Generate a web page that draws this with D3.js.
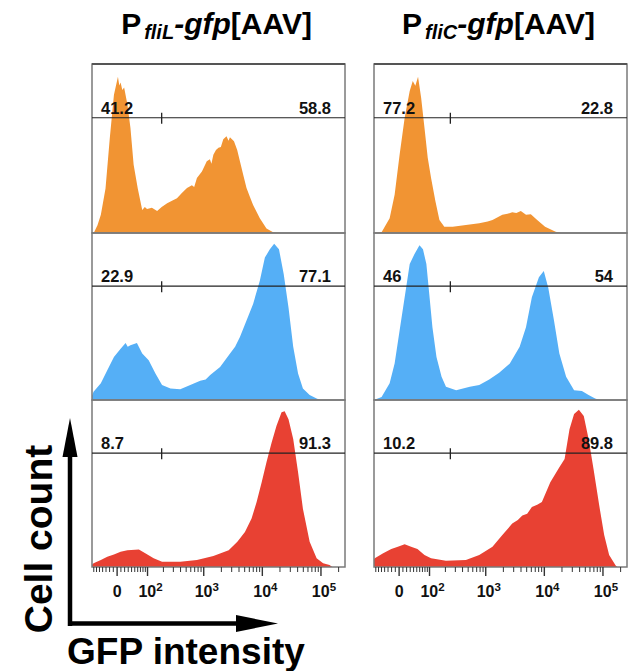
<!DOCTYPE html>
<html><head><meta charset="utf-8">
<script src="https://cdn.jsdelivr.net/npm/d3@7"></script>
<style>
body{margin:0;background:#fff}
svg{display:block}
text{font-family:"Liberation Sans",Arial,Helvetica,sans-serif}
</style>
</head><body>
<svg id="c" width="633" height="671"></svg>
<script>
// ---------------- DATA ----------------
const constructs = ["fliL", "fliC"];            // promoter subscripts of the titles
const strains = ["orange", "blue", "red"];       // rows, top to bottom
const gateThresholds = [190, 250];               // GFP value of the gate split (per column)
const gateLeftPct = [["41.2", "22.9", "8.7"], ["77.2", "46", "10.2"]];
const gateRightPct = [["58.8", "77.1", "91.3"], ["22.8", "54", "89.8"]];
const majorTicks = [0, 100, 1000, 10000, 100000];
const majorTickLabels = [["0", ""], ["10", "2"], ["10", "3"], ["10", "4"], ["10", "5"]];
const minorTicks = [-70, -60, -50, -40, -30, -20, -10, 10, 20, 30, 40, 50, 60, 70, 80, 90,
  200, 300, 400, 500, 600, 700, 800, 900, 2000, 3000, 4000, 5000, 6000, 7000, 8000, 9000,
  20000, 30000, 40000, 50000, 60000, 70000, 80000, 90000, 200000];

// histograms: [GFP intensity, % of mode]
const fliL_orange = [[-75,0],[-67,0.5],[-55,5],[-44,11.8],[-30,29],[-18,62],[-7,90],[3.5,101.7],[7,96],[10.5,98],[15,93],[20,94.7],[29,83.8],[38,68.5],[48,44.5],[62,29],[79,15],[90,17],[100,15.7],[125,16.5],[157,14.4],[190,17],[238,19.4],[290,21],[354,22.7],[430,26],[527,29.3],[640,31],[700,30],[780,35.8],[950,40],[1150,46.7],[1300,48],[1380,45],[1490,51],[1650,54],[1820,55.5],[2000,56],[2200,61],[2500,63],[2700,60],[2860,62.4],[3350,59.8],[3800,54],[4230,46.7],[4800,38],[5480,29.3],[6200,24],[7100,18.3],[9240,9.6],[12000,3],[15600,0.5],[20200,0]];
const fliC_orange = [[-75,0],[-48,0.5],[-24,9.6],[-10.5,24.9],[2.6,51],[16,75],[30,92.5],[39,99],[47,95.8],[56,101.7],[67,88],[80,68.5],[94,49],[110,35.8],[134,20.5],[159,8.5],[195,4.1],[275,4.1],[466,5.2],[790,6.3],[1100,7.5],[1330,8.5],[1960,11.8],[2400,12.5],[2890,13.5],[3400,13],[4050,14.4],[4970,11.8],[6000,12.2],[7700,8.5],[10500,4.1],[15900,0.8],[20000,0]];
const fliL_blue = [[-75,3],[-69,5.5],[-44,11],[-25,19.6],[-7,28.4],[10.5,33.8],[24,37.5],[30,35],[38,36],[59,37.5],[79,30.6],[108,26.2],[146,17.5],[193,9.8],[272,7.6],[403,7],[600,9.8],[889,12.7],[1100,13.5],[1315,16.4],[1940,21.8],[2870,30.6],[3500,35],[4230,41.5],[5480,52.4],[7100,63.3],[9240,78.6],[11270,93.8],[13700,99.3],[16230,103],[19600,99.3],[23600,83],[28500,61],[34300,35],[41500,17.5],[50200,7.6],[65400,3.3],[86000,1],[100000,0]];
const fliC_blue = [[-75,0],[-48,2],[-24,11],[-10.5,24],[2.6,45.8],[16,67.7],[30,89.5],[44,96],[61,102],[74,99.3],[88,89.5],[101,70],[117,48],[140,28.4],[174,15.3],[209,8.7],[316,6.5],[545,8.7],[790,9.8],[1170,13.5],[1730,17.9],[2630,24],[3870,35],[4960,48],[6250,67.7],[8240,80.8],[9980,85],[11900,74],[14900,52.4],[18400,30.6],[24000,15.3],[32800,6.5],[44600,6],[58000,3.3],[75000,1],[90000,0]];
const fliL_red = [[-75,1.5],[-69,2.4],[-44,4.6],[-25,6.8],[-7,8.3],[10.5,10],[29,11.1],[66,11.6],[92,9],[135,5.7],[193,3.5],[403,3.5],[780,4.6],[1490,7.2],[2720,11.1],[3820,16.6],[5150,23.1],[6680,31.9],[8150,42.8],[9940,55.9],[12000,69],[14700,82],[17800,93],[21700,102],[24500,102.6],[28500,97.4],[34300,84.3],[41500,62.4],[50200,38.4],[65400,16.6],[86000,5.7],[111000,2.4],[143000,1.3],[160000,0]];
const fliC_red = [[-75,5],[-72,5.7],[-43,9],[-19.5,11.8],[-2,13.3],[16,15],[34,13.3],[54,11.8],[80,7.9],[110,5.7],[209,4.1],[466,4.6],[790,7.9],[1330,13.3],[1960,21],[2890,28.6],[3600,31],[4300,34],[5200,35],[6250,39.5],[7700,41],[9260,42.8],[12900,55.9],[18400,65.7],[22600,71.2],[27400,90.8],[32800,100.7],[39600,103.5],[48000,99.5],[58000,84.3],[70400,64.6],[88000,40.6],[107000,21],[130000,7.9],[168000,1],[180000,0]];
const histograms = [[fliL_orange, fliL_blue, fliL_red], [fliC_orange, fliC_blue, fliC_red]];

// ---------------- LAYOUT / STYLE ----------------
const colors = {orange: "#F19433", blue: "#55AFF6", red: "#E84133"};
const colX = [92, 374], panelW = 253;
const rowEdges = [64, 233, 400, 567];
const cofactor = 66.7;                 // biexponential-like (asinh) display
const T = v => Math.asinh(v / cofactor);
const xDomain = [-75, 262144];
const xLin = d3.scaleLinear().domain(xDomain.map(T)).range([0, panelW]);
const x = v => xLin(T(v));
const gateLevel = 75;

const svg = d3.select("#c");
const defs = svg.append("defs");

constructs.forEach((con, c) => {
  // title
  const t = svg.append("text")
    .attr("x", colX[c] + panelW / 2 - 2).attr("y", 34)
    .attr("text-anchor", "middle").attr("font-weight", "bold").attr("font-size", 30);
  t.append("tspan").text("P");
  t.append("tspan").attr("font-style", "italic").attr("font-size", 20).attr("dx", 3).attr("dy", 5).text(con);
  t.append("tspan").attr("font-style", "italic").attr("dy", -5).text("-gfp");
  t.append("tspan").text("[AAV]");

  strains.forEach((s, r) => {
    const top = rowEdges[r], h = rowEdges[r + 1] - rowEdges[r];
    const g = svg.append("g").attr("transform", `translate(${colX[c]},${top})`);
    const y = d3.scaleLinear().domain([0, 110]).range([h, 0]);
    const id = `clip${c}${r}`;
    defs.append("clipPath").attr("id", id).append("rect").attr("width", panelW).attr("height", h);
    const area = d3.area().x(d => x(d[0])).y0(h).y1(d => y(d[1]));
    g.append("path").datum(histograms[c][r]).attr("clip-path", `url(#${id})`)
      .attr("d", area).attr("fill", colors[s]);
    g.append("rect").attr("width", panelW).attr("height", h)
      .attr("fill", "none").attr("stroke", "#7a7a7a").attr("stroke-width", 1.5);
    const gy = y(gateLevel);
    g.append("line").attr("x1", 0).attr("x2", panelW).attr("y1", gy).attr("y2", gy)
      .attr("stroke", "#222").attr("stroke-width", 1.2);
    g.append("line").attr("x1", x(gateThresholds[c])).attr("x2", x(gateThresholds[c]))
      .attr("y1", gy - 5).attr("y2", gy + 6).attr("stroke", "#222").attr("stroke-width", 1.3);
    g.append("text").attr("x", 9).attr("y", gy - 4).attr("font-size", 16.5).attr("font-weight", "bold")
      .attr("fill", "#111").text(gateLeftPct[c][r]);
    g.append("text").attr("x", panelW - 14).attr("y", gy - 4).attr("text-anchor", "end")
      .attr("font-size", 16.5).attr("font-weight", "bold").attr("fill", "#111").text(gateRightPct[c][r]);
  });
  // top border emphasis
  svg.append("line").attr("x1", colX[c]).attr("x2", colX[c] + panelW).attr("y1", rowEdges[0]).attr("y2", rowEdges[0])
    .attr("stroke", "#555").attr("stroke-width", 2);

  // x axes
  const ax = svg.append("g").attr("transform", `translate(${colX[c]},${rowEdges[3]})`);
  const minor = ax.append("g").call(d3.axisBottom(xLin).tickValues(minorTicks.map(T)).tickSize(5).tickFormat(""));
  const major = ax.append("g").call(d3.axisBottom(xLin).tickValues(majorTicks.map(T)).tickSize(9).tickFormat(""));
  [minor, major].forEach(a => {
    a.select(".domain").remove();
    a.selectAll("line").attr("stroke", "#333").attr("stroke-width", 1);
  });
  major.selectAll("line").attr("stroke-width", 1.4);
  major.selectAll(".tick").each(function(d, i) {
    const txt = d3.select(this).append("text").attr("y", 30).attr("fill", "#111")
      .attr("text-anchor", "middle").attr("font-size", 16).attr("font-weight", "bold")
      .attr("dx", majorTickLabels[i][1] ? 3 : 0);
    txt.append("tspan").text(majorTickLabels[i][0]);
    if (majorTickLabels[i][1]) txt.append("tspan").attr("font-size", 11.5).attr("dy", -6).text(majorTickLabels[i][1]);
  });
});

// axis arrows and titles
const arrows = svg.append("g");
arrows.append("path").attr("d", "M70,626 L70,452 M67.75,623.5 L240,623.5").attr("stroke", "#000").attr("stroke-width", 4.5).attr("fill", "none");
arrows.append("path").attr("d", "M70,418 L62.5,457 L77.5,457 Z").attr("fill", "#000");
arrows.append("path").attr("d", "M278,623.5 L236,615 L236,632 Z").attr("fill", "#000");
svg.append("text").attr("transform", "translate(52,539) rotate(-90)").attr("text-anchor", "middle")
  .attr("font-size", 39).attr("font-weight", "bold").text("Cell count");
svg.append("text").attr("x", 67).attr("y", 664).attr("font-size", 37).attr("font-weight", "bold").text("GFP intensity");
</script>
</body></html>
